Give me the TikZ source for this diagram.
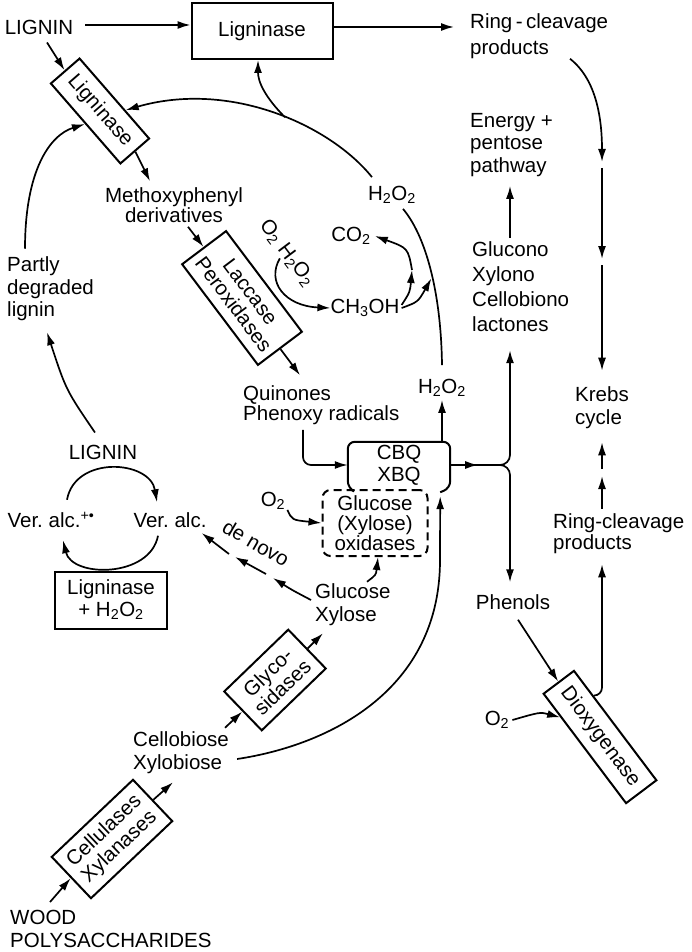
\documentclass[tikz,border=0pt]{standalone}
\usepackage{fontspec}
\setmainfont{Liberation Sans}
\usetikzlibrary{arrows.meta,calc}

\begin{document}
\begin{tikzpicture}[x=1pt,y=-1pt,
    font=\fontsize{20.5}{23}\selectfont,
    arr/.style={line width=1.7pt,-{Latex[length=13pt,width=8pt]}},
    link/.style={line width=1.7pt},
    enzyme/.style={draw,line width=2pt,align=center,inner sep=2pt},
    txt/.style={inner sep=0pt,align=left,anchor=west},
    lbl/.style={inner sep=0pt,align=center}]
    \useasboundingbox (0,0) rectangle (691,952);
    \node[lbl] (lignA) at (39,27) {LIGNIN};
    \node[enzyme,minimum width=141pt,minimum height=56pt] (ligbox) at (262,31) {Ligninase};
    \node[txt,font=\fontsize{20.5}{26}\selectfont] (ringA) at (470,36) {Ring\,-\,cleavage\\products};
    \node[enzyme,rotate=-49,minimum width=106pt,minimum height=38pt] (ligrot) at (100,111) {Ligninase};
    \node[lbl,font=\fontsize{20.5}{19}\selectfont] (methoxy) at (174,205) {Methoxyphenyl\\derivatives};
    \node[txt,font=\fontsize{20.5}{22.5}\selectfont] (energy) at (470,145) {Energy +\\pentose\\pathway};
    \node[lbl] (h2o2a) at (392,195) {H\textsubscript{2}O\textsubscript{2}};
    \node[lbl] (co2) at (351,236) {CO\textsubscript{2}};
    \node[lbl,rotate=-53] (o2h2o2) at (287,253) {O\textsubscript{2} H\textsubscript{2}O\textsubscript{2}};
    \node[lbl] (ch3oh) at (365,308) {CH\textsubscript{3}OH};
    \node[enzyme,rotate=-53,minimum width=126pt,minimum height=55pt,font=\fontsize{20.5}{21}\selectfont] (laccase) at (242,298) {Laccase\\Peroxidases};
    \node[txt,font=\fontsize{20.5}{25}\selectfont] (glucono) at (472,287) {Glucono\\Xylono\\Cellobiono\\lactones};
    \node[txt,font=\fontsize{20.5}{22.5}\selectfont] (partly) at (7,289) {Partly\\degraded\\lignin};
    \node[lbl] (h2o2b) at (442,388) {H\textsubscript{2}O\textsubscript{2}};
    \node[txt,font=\fontsize{20.5}{20}\selectfont] (quinones) at (243,405) {Quinones\\Phenoxy radicals};
    \node[txt] (krebs) at (575,408) {Krebs\\cycle};
    \node[lbl] (lignB) at (103,452) {LIGNIN};
    \node[lbl,minimum width=102pt,minimum height=46pt,font=\fontsize{20.5}{22}\selectfont] (cbq) at (399,465) {CBQ\\XBQ};
    \node[draw,line width=2pt,dash pattern=on 8pt off 5pt,rounded corners=8pt,minimum width=105pt,minimum height=66pt,
        lbl,font=\fontsize{20.5}{20}\selectfont] (oxid) at (375,523) {Glucose\\(Xylose)\\oxidases};
    \node[lbl] (o2a) at (273,501) {O\textsubscript{2}};
    \node[lbl] (veralcL) at (51,520) {Ver.\ alc.\textsuperscript{+•}};
    \node[lbl] (veralcR) at (170,520) {Ver.\ alc.};
    \node[lbl,rotate=-30] (novo) at (256,543) {de novo};
    \node[txt,font=\fontsize{20.5}{21}\selectfont] (ringB) at (553,534) {Ring-cleavage\\products};
    \node[enzyme,minimum width=112pt,minimum height=57pt,font=\fontsize{20.5}{22}\selectfont] (ligh) at (111,600) {Ligninase\\+ H\textsubscript{2}O\textsubscript{2}};
    \node[txt] (glucose) at (315,605) {Glucose\\Xylose};
    \node[lbl] (phenols) at (513,602) {Phenols};
    \node[enzyme,rotate=44,minimum width=89pt,minimum height=54pt,font=\fontsize{20.5}{21}\selectfont] (glyco) at (275,680) {Glyco-\\sidases};
    \node[lbl] (o2b) at (497,720) {O\textsubscript{2}};
    \node[enzyme,rotate=-53,minimum width=137pt,minimum height=38pt] (dioxy) at (600,737) {Dioxygenase};
    \node[txt] (cellob) at (133,753) {Cellobiose\\Xylobiose};
    \node[enzyme,rotate=43.5,minimum width=112pt,minimum height=57pt,font=\fontsize{20.5}{22}\selectfont] (cellul) at (112,839) {Cellulases\\Xylanases};
    \node[txt] (wood) at (10,929) {WOOD\\POLYSACCHARIDES};
    \draw[line width=2pt,rounded corners=7pt] ([xshift=4pt,yshift=-2pt]cbq.south west) -- (cbq.south west) -- (cbq.north west)
        -- (cbq.north east) -- (cbq.south east) -- ([xshift=-10pt,yshift=-4pt]cbq.south east);
    \draw[arr] ([xshift=12pt,yshift=2pt]lignA.east) -- ([yshift=2pt]lignA.east -| ligbox.west);
    \draw[arr] ([yshift=4pt]ligbox.east) -- ([xshift=-16pt,yshift=4pt]ringA.west |- ligbox.east);
    \draw[arr] ([xshift=8pt,yshift=-8pt]lignA.south) -- (ligrot.west);
    \draw[arr] (ligrot.east) -- ([xshift=-24pt,yshift=6pt]methoxy.north);
    \draw[arr] ([xshift=14pt,yshift=-4pt]methoxy.south) -- (laccase.west);
    \draw[arr] (laccase.east) -- ([xshift=57pt,yshift=10pt]quinones.north west);
    \draw[arr] (o2h2o2.south) .. controls (266,282) and (285,306) .. (ch3oh.west);
    \draw[link] ([yshift=14pt]h2o2b.north) .. controls (441,290) and (425,235) .. coordinate[pos=0.45] (jn) ([xshift=11pt,yshift=-5pt]h2o2a.south);
    \coordinate (mid) at (412,270);
    \draw[arr] ([xshift=2pt,yshift=3pt]ch3oh.east) .. controls (410,292) .. (mid);
    \draw[arr] (mid) .. controls (408,248) .. ([xshift=4pt]co2.east);
    \draw[arr,shorten >=2pt] ([xshift=2pt]ch3oh.east) .. controls (418,302) .. (jn);
    \draw[arr] ([xshift=4pt,yshift=9pt]h2o2a.north west) .. controls (330,125) and (230,80) .. coordinate[pos=0.45] (brk)
        ($(ligrot.north)!0.3!(ligrot.north east)$);
    \draw[arr] (brk) .. controls (265,97) and (258,82) .. ([xshift=-4pt]ligbox.south);
    \draw[arr] ([xshift=18pt,yshift=8pt]partly.north west) .. controls (25,170) and (50,135) .. (ligrot.south);
    \draw[arr] ([xshift=-8pt,yshift=12pt]lignB.north) .. controls (66,390) .. ([xshift=40pt,yshift=-11pt]partly.south west);
    \draw[arr] ([xshift=16pt,yshift=12pt]veralcL.north) .. controls (75,455) and (150,460) .. ([xshift=-13pt,yshift=10pt]veralcR.north);
    \draw[arr] ([xshift=-12pt,yshift=-8pt]veralcR.south) .. controls (150,578) and (72,578) .. ([xshift=12pt,yshift=-12pt]veralcL.south);
    \draw[arr,rounded corners=8pt] ([xshift=60pt,yshift=-5pt]quinones.south west) |- (cbq.west);
    \draw[arr] (h2o2b.south |- cbq.north) -- ([yshift=-3pt]h2o2b.south);
    \draw[arr] (cbq.east) -- ++(28,0);
    \draw[arr,rounded corners=10pt] (cbq.east) -| ([xshift=38pt,yshift=-18pt]glucono.south west);
    \draw[arr,rounded corners=10pt] (cbq.east) -| ([xshift=-3pt,yshift=12pt]phenols.north);
    \draw[arr] ([xshift=38pt,yshift=4pt]glucono.north west) -- ([xshift=40pt,yshift=-9pt]energy.south west);
    \coordinate (k1) at (602,162);
    \coordinate (k2) at (602,259);
    \coordinate (k3) at (602,476);
    \draw[arr] ([xshift=100pt]ringA.south west) .. controls (597,80) and (602,120) .. (k1);
    \draw[arr] ([yshift=-6pt]k1) -- (k2);
    \draw[arr] ([yshift=-6pt]k2) -- ([xshift=27pt,yshift=16pt]krebs.north west);
    \draw[arr] ([xshift=49pt,yshift=5pt]ringB.north west) -- (k3);
    \draw[arr] ([yshift=7pt]k3) -- ([xshift=27pt,yshift=-13pt]krebs.south west);
    \draw[arr] ([xshift=5pt,yshift=-10pt]phenols.south) -- (dioxy.west);
    \draw[arr] ([xshift=3pt]o2b.east) .. controls (540,712) .. ($(dioxy.south)!0.57!(dioxy.south west)$);
    \draw[arr,rounded corners=8pt] ($(dioxy.north)!0.53!(dioxy.north west)$) -| ([xshift=49pt,yshift=-10pt]ringB.south west);
    \draw[arr] ([xshift=52pt,yshift=2pt]glucose.north west) .. controls (376,575) .. ([xshift=3pt]oxid.south);
    \draw[arr] ([xshift=2pt]o2a.south east) .. controls (292,520) .. (oxid.west);
    \coordinate (d1) at (273,578);
    \coordinate (d2) at (235,557);
    \draw[arr] ([xshift=-4pt,yshift=5pt]glucose.west) .. controls (292,590) .. (d1);
    \draw[arr] ([xshift=-7pt,yshift=4pt]d1) -- (d2);
    \draw[arr] ([xshift=-6pt,yshift=3pt]d2) -- ([xshift=-5pt,yshift=-13pt]veralcR.east);
    \draw[arr] ([xshift=92pt,yshift=4pt]cellob.north west) -- (glyco.west);
    \draw[arr] (glyco.east) -- ([xshift=8pt,yshift=-7pt]glucose.south west);
    \draw[arr] ([xshift=8pt,yshift=-6pt]cellob.east) .. controls (330,745) and (440,690) .. (440,560)
        -- ([xshift=-10pt,yshift=-8pt]cbq.south east);
    \draw[arr] ([xshift=40pt,yshift=8pt]wood.north west) -- (cellul.west);
    \draw[arr] (cellul.east) -- ([xshift=40pt,yshift=-8pt]cellob.south west);
\end{tikzpicture}
\end{document}
